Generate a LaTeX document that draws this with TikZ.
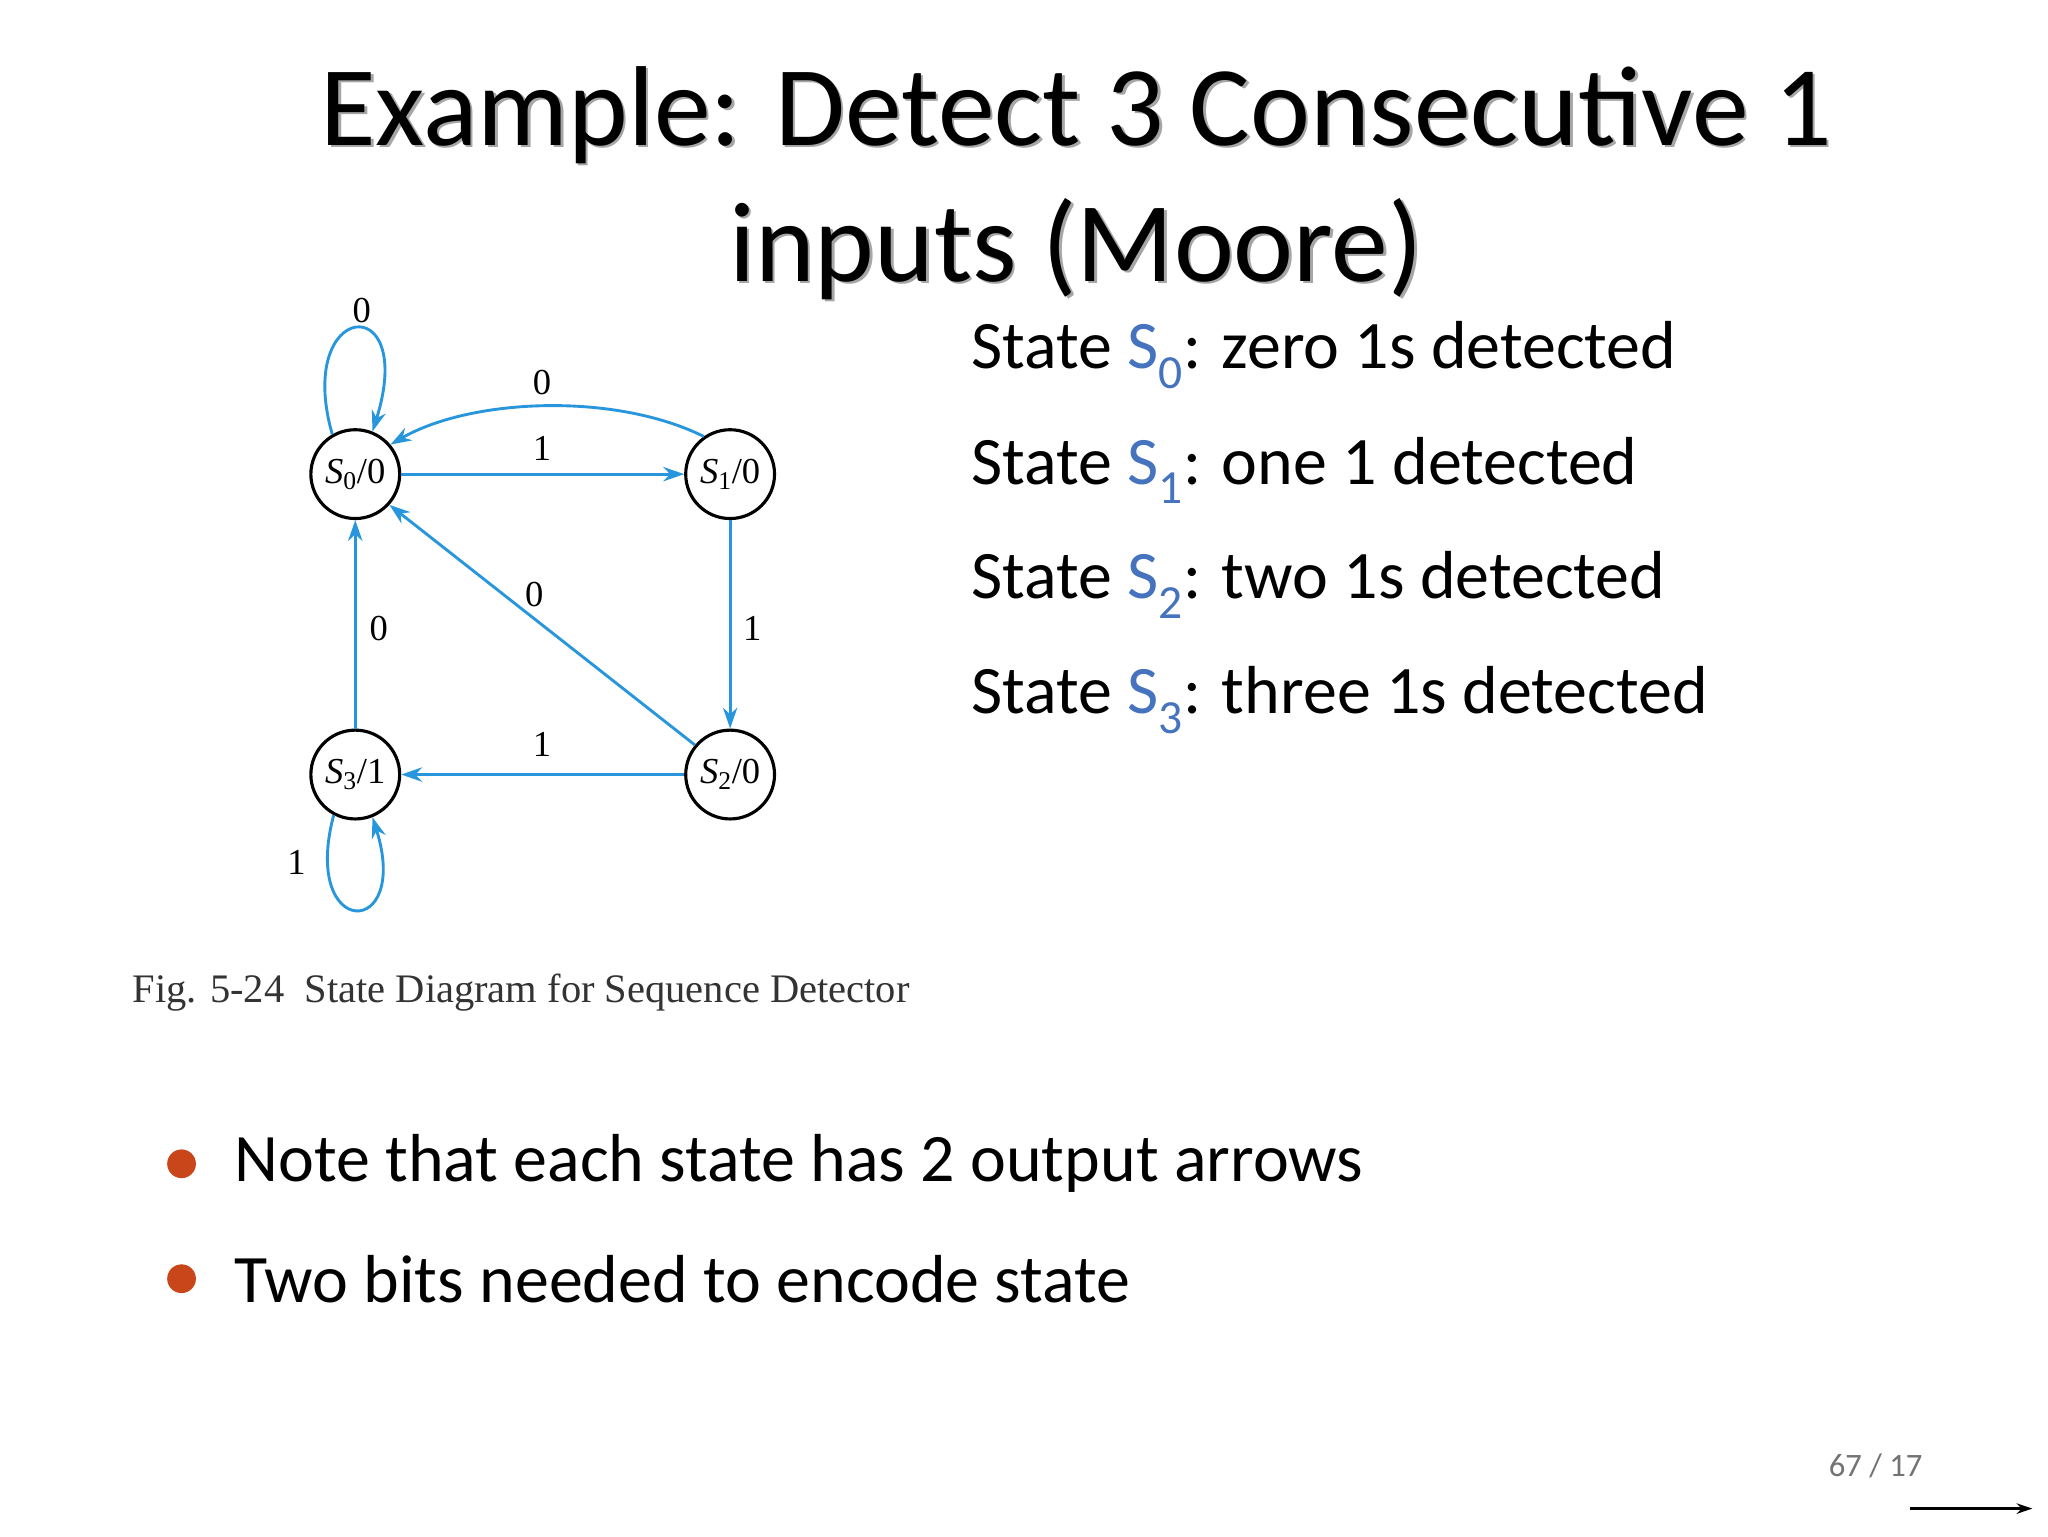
\documentclass[tikz,border=0pt]{standalone}
\usepackage{fontspec}
\setmainfont{Carlito}
\newfontfamily\serifb{Liberation Serif}
\usetikzlibrary{arrows.meta}
\definecolor{edgeblue}{RGB}{40,150,220}
\definecolor{subblue}{RGB}{70,115,190}
\definecolor{bulletred}{RGB}{200,70,25}
\newcommand{\stn}[2]{{\itshape S}\textsubscript{#1}/#2}
\tikzset{
 st/.style={circle,draw=black,line width=2.4pt,minimum size=68pt,inner sep=0pt,font=\serifb\fontsize{28}{30}\selectfont},
 tr/.style={draw=edgeblue,line width=2.2pt,-{Stealth[length=16pt,width=11pt]}},
 lb/.style={font=\serifb\fontsize{28}{30}\selectfont},
 txt/.style={anchor=west,font=\fontsize{52}{56}\selectfont},
}
\begin{document}
\begin{tikzpicture}[x=1pt,y=-1pt]
\useasboundingbox (0,0) rectangle (1568,1176);
\fill[white] (0,0) rectangle (1568,1176);
% title
\node[font=\fontsize{87}{104}\selectfont,text=black!35,align=center] at (826,142) {Example: Detect 3 Consecutive 1\\inputs (Moore)};
\node[font=\fontsize{87}{104}\selectfont,align=center] (title) at (824,140) {Example: Detect 3 Consecutive 1\\inputs (Moore)};
% states
\node[st] (s0) at (272,363) {\stn{0}{0}};
\node[st] (s1) at (559,363) {\stn{1}{0}};
\node[st] (s2) at (559,593) {\stn{2}{0}};
\node[st] (s3) at (272,593) {\stn{3}{1}};
\draw[tr] (s0.120) .. controls (225,230) and (320,220) .. (s0.68);
\draw[tr] (s0) -- (s1);
\draw[tr] (s1.125) .. controls (470,300) and (360,305) .. (s0.40);
\draw[tr] (s1) -- (s2);
\draw[tr] (s2) -- (s3);
\draw[tr] (s2.140) -- (s0.-42);
\draw[tr] (s3) -- (s0);
\draw[tr] (s3.-118) .. controls (230,720) and (315,720) .. (s3.-68);
\node[lb] (l1) at (277,238) {0};
\node[lb] (l2) at (415,293) {0};
\node[lb] (l3) at (415,343) {1};
\node[lb] (l4) at (409,455) {0};
\node[lb] (l5) at (290,481) {0};
\node[lb] (l6) at (576,481) {1};
\node[lb] (l7) at (415,570) {1};
\node[lb] (l8) at (227,660) {1};
\node[anchor=west,font=\serifb\fontsize{31}{33}\selectfont,text=black!80] (cap) at (98,760) {Fig. 5-24\hspace{0.5em}State Diagram for Sequence Detector};
% state descriptions
\node[txt] (d0) at (740,272) {State \textcolor{subblue}{S\textsubscript{0}}: zero 1s detected};
\node[txt] (d1) at (740,360) {State \textcolor{subblue}{S\textsubscript{1}}: one 1 detected};
\node[txt] (d2) at (740,448) {State \textcolor{subblue}{S\textsubscript{2}}: two 1s detected};
\node[txt] (d3) at (740,536) {State \textcolor{subblue}{S\textsubscript{3}}: three 1s detected};
% bullets
\fill[bulletred] (139,891) circle (11);
\fill[bulletred] (139,979) circle (11);
\node[txt] (b1) at (176,891) {Note that each state has 2 output arrows};
\node[txt] (b2) at (176,979) {Two bits needed to encode state};
\node[font=\fontsize{25}{27}\selectfont,text=black!55] (pg) at (1436,1122) {67 / 17};
\coordinate (a1) at (1462,1155);
\coordinate (a2) at (1556,1155);
\draw[line width=1.8pt,-{Stealth[length=12pt,width=8pt]}] (a1) -- (a2);
\end{tikzpicture}
\end{document}
